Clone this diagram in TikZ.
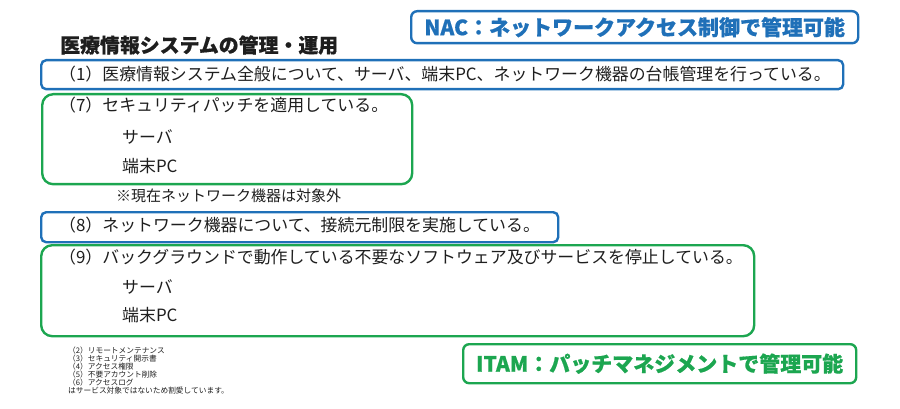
\documentclass[tikz,border=0pt]{standalone}
\usepackage{fontspec}
\setmainfont{Noto Sans CJK JP}
\newfontfamily\heavyfont{Noto Sans CJK JP}[BoldFeatures={FakeBold=0.6}]
\definecolor{nblue}{RGB}{31,112,184}
\definecolor{ngreen}{RGB}{28,166,80}
\definecolor{txt}{RGB}{30,30,30}
\begin{document}
\begin{tikzpicture}[x=1pt,y=-1pt,
  bbox/.style={draw=nblue,line width=2.4pt,rounded corners=5pt,anchor=north west,inner sep=0pt},
  gbox/.style={draw=ngreen,line width=2.4pt,rounded corners=11pt,anchor=north west,inner sep=0pt},
  body/.style={anchor=west,inner sep=0pt,font=\fontsize{16.9}{18}\selectfont,text=txt},
  small/.style={anchor=west,inner sep=0pt,font=\fontsize{7.7}{8}\selectfont,text=txt},
  tag/.style={anchor=center,inner sep=0pt,font=\fontsize{21}{24}\selectfont\heavyfont\bfseries}]
\useasboundingbox (0,0) rectangle (900,409);
% title
\node[anchor=west,inner sep=0pt,font=\fontsize{19.9}{22}\selectfont\heavyfont\bfseries,text=txt] (title) at (60,45) {医療情報システムの管理・運用};
% NAC
\node[bbox,rounded corners=6pt,minimum width=447pt,minimum height=32pt] (nacbox) at (410,10) {};
\node[tag,text=nblue] (nac) at (nacbox.center) {NAC：ネットワークアクセス制御で管理可能};
% (1)
\node[bbox,minimum width=802pt,minimum height=29pt] (b1) at (40,59) {};
\node[body] (t1) at (59,74) {（1）医療情報システム全般について、サーバ、端末PC、ネットワーク機器の台帳管理を行っている。};
% (7)
\node[gbox,minimum width=370pt,minimum height=90pt] (b7) at (41,93) {};
\node[body] (t7) at (59,105) {（7）セキュリティパッチを適用している。};
\node[body] (t7a) at (122,137) {サーバ};
\node[body] (t7b) at (122,166) {端末PC};
\node[body,font=\fontsize{15}{16}\selectfont] (note) at (116,196) {※現在ネットワーク機器は対象外};
% (8)
\node[bbox,minimum width=517pt,minimum height=30pt] (b8) at (40,211) {};
\node[body] (t8) at (59,225) {（8）ネットワーク機器について、接続元制限を実施している。};
% (9)
\node[gbox,minimum width=713pt,minimum height=91pt] (b9) at (40,244) {};
\node[body] (t9) at (59,257) {（9）バックグラウンドで動作している不要なソフトウェア及びサービスを停止している。};
\node[body] (t9a) at (122,287) {サーバ};
\node[body] (t9b) at (122,315) {端末PC};
% small notes
\node[small] (s2) at (68,351) {（2）リモートメンテナンス};
\node[small] (s3) at (68,359) {（3）セキュリティ開示書};
\node[small] (s4) at (68,367) {（4）アクセス権限};
\node[small] (s5) at (68,375) {（5）不要アカウント削除};
\node[small] (s6) at (68,383) {（6）アクセスログ};
\node[small] (s7) at (68,391) {はサービス対象ではないため割愛しています。};
% ITAM
\node[gbox,rounded corners=6pt,minimum width=393pt,minimum height=39pt] (itambox) at (462,343) {};
\node[tag,text=ngreen] (itam) at (itambox.center) {ITAM：パッチマネジメントで管理可能};
\end{tikzpicture}
\end{document}
